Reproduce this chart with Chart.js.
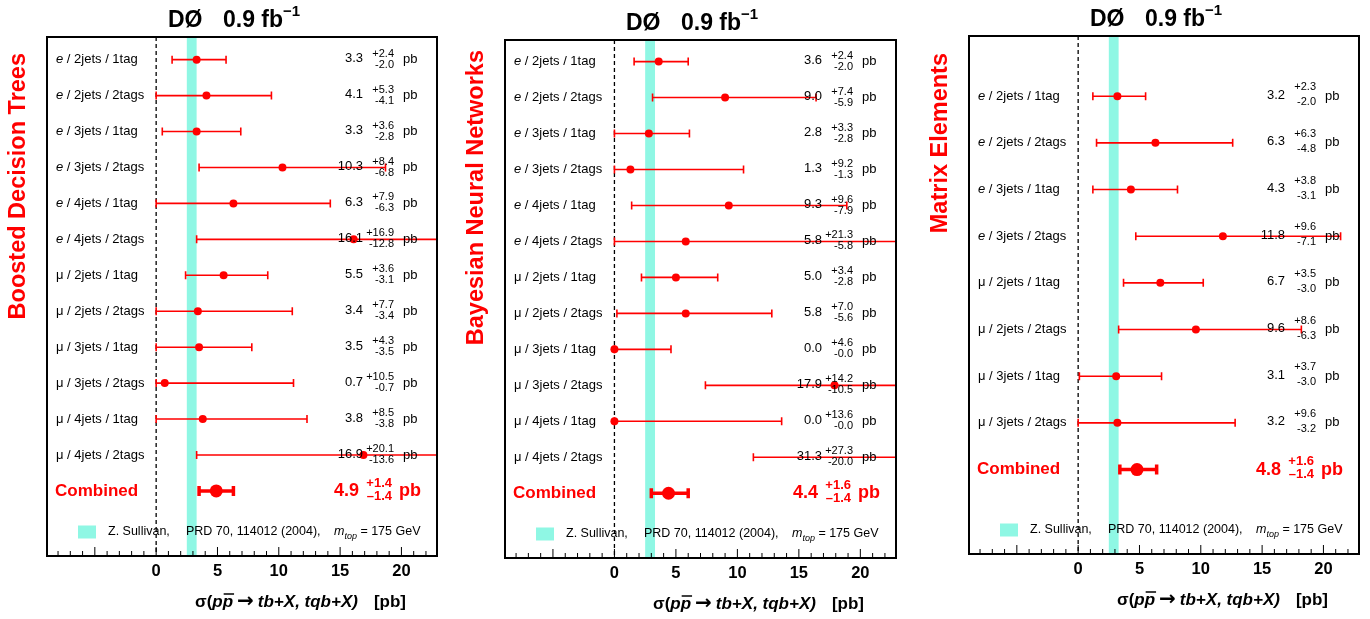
<!DOCTYPE html>
<html>
<head>
<meta charset="utf-8">
<script src="https://cdn.jsdelivr.net/npm/chart.js@4.4.0/dist/chart.umd.min.js"></script>
<style>
  body { margin: 0; background: #fff; width: 1370px; height: 619px; overflow: hidden; position: relative; }
  .panel { position: absolute; top: 0; }
</style>
</head>
<body>
<div class="panel" style="left:0px"><canvas id="chart-bdt" width="460" height="619"></canvas></div>
<div class="panel" style="left:460px"><canvas id="chart-bnn" width="450" height="619"></canvas></div>
<div class="panel" style="left:910px"><canvas id="chart-me" width="460" height="619"></canvas></div>
<script>
// ---- data ----
const channels = [
    'e / 2jets / 1tag', 'e / 2jets / 2tags', 'e / 3jets / 1tag', 'e / 3jets / 2tags',
    'e / 4jets / 1tag', 'e / 4jets / 2tags', 'μ / 2jets / 1tag', 'μ / 2jets / 2tags',
    'μ / 3jets / 1tag', 'μ / 3jets / 2tags', 'μ / 4jets / 1tag', 'μ / 4jets / 2tags'
];
const meChannels = [
    'e / 2jets / 1tag', 'e / 2jets / 2tags', 'e / 3jets / 1tag', 'e / 3jets / 2tags',
    'μ / 2jets / 1tag', 'μ / 2jets / 2tags', 'μ / 3jets / 1tag', 'μ / 3jets / 2tags'
];

// Boosted Decision Trees
const bdtValues = [3.3, 4.1, 3.3, 10.3, 6.3, 16.1, 5.5, 3.4, 3.5, 0.7, 3.8, 16.9];
const bdtPlus   = [2.4, 5.3, 3.6, 8.4, 7.9, 16.9, 3.6, 7.7, 4.3, 10.5, 8.5, 20.1];
const bdtMinus  = [2.0, 4.1, 2.8, 6.8, 6.3, 12.8, 3.1, 3.4, 3.5, 0.7, 3.8, 13.6];
const bdtCombined = [4.9, 1.4, 1.4];

// Bayesian Neural Networks
const bnnValues = [3.6, 9.0, 2.8, 1.3, 9.3, 5.8, 5.0, 5.8, 0.0, 17.9, 0.0, 31.3];
const bnnPlus   = [2.4, 7.4, 3.3, 9.2, 9.6, 21.3, 3.4, 7.0, 4.6, 14.2, 13.6, 27.3];
const bnnMinus  = [2.0, 5.9, 2.8, 1.3, 7.9, 5.8, 2.8, 5.6, 0.0, 10.5, 0.0, 20.0];
const bnnCombined = [4.4, 1.6, 1.4];

// Matrix Elements
const meValues = [3.2, 6.3, 4.3, 11.8, 6.7, 9.6, 3.1, 3.2];
const mePlus   = [2.3, 6.3, 3.8, 9.6, 3.5, 8.6, 3.7, 9.6];
const meMinus  = [2.0, 4.8, 3.1, 7.1, 3.0, 6.3, 3.0, 3.2];
const meCombined = [4.8, 1.6, 1.4];

const xTickLabels = [0, 5, 10, 15, 20];
const theoryBand = [2.5, 3.3];   // Z. Sullivan prediction
const xRange = [-8.9, 22.9];

// ---- style ----
const FONT = '"Liberation Sans", Arial, Helvetica, sans-serif';
const RED = '#ff0000';
const CYAN = '#8ff7e4';

function drawBar(ctx, x, yPix, lo, hi, lw, capH) {
    const x0 = x.getPixelForValue(lo), x1 = x.getPixelForValue(hi);
    ctx.strokeStyle = RED;
    ctx.lineWidth = lw;
    ctx.beginPath();
    ctx.moveTo(x0, yPix); ctx.lineTo(x1, yPix);
    ctx.moveTo(x0, yPix - capH); ctx.lineTo(x0, yPix + capH);
    ctx.moveTo(x1, yPix - capH); ctx.lineTo(x1, yPix + capH);
    ctx.stroke();
}

function text(ctx, str, px, py, font, align, color) {
    ctx.font = font;
    ctx.textAlign = align || 'left';
    ctx.fillStyle = color || '#000';
    ctx.fillText(str, px, py);
    return ctx.measureText(str).width;
}

function makeDecor(cfg) {
    return {
        id: 'decor',
        beforeDatasetsDraw(chart) {
            const { ctx, chartArea: a, scales: { x, y } } = chart;
            ctx.save();
            ctx.beginPath();
            ctx.rect(a.left, a.top, a.right - a.left, a.bottom - a.top);
            ctx.clip();
            // theory band
            const b0 = x.getPixelForValue(theoryBand[0]), b1 = x.getPixelForValue(theoryBand[1]);
            ctx.fillStyle = CYAN;
            ctx.fillRect(b0, a.top, b1 - b0, a.bottom - a.top);
            // zero line
            const z = x.getPixelForValue(0);
            ctx.strokeStyle = '#000';
            ctx.lineWidth = 1.3;
            ctx.setLineDash([4, 3]);
            ctx.beginPath();
            ctx.moveTo(z, a.top); ctx.lineTo(z, a.bottom);
            ctx.stroke();
            ctx.setLineDash([]);
            // error bars
            cfg.values.forEach((v, i) => {
                drawBar(ctx, x, y.getPixelForValue(i), v - cfg.minus[i], v + cfg.plus[i], 1.6, 4);
            });
            const c = cfg.combined;
            drawBar(ctx, x, y.getPixelForValue(cfg.values.length), c[0] - c[2], c[0] + c[1], 3.5, 5);
            ctx.restore();
        },
        afterDatasetsDraw(chart) {
            const { ctx, chartArea: a, scales: { x, y } } = chart;
            ctx.save();
            ctx.textBaseline = 'middle';

            // per-channel labels and results
            cfg.rows.forEach((label, i) => {
                const yy = y.getPixelForValue(i);
                const lx = a.left + 9;
                const first = label.charAt(0);
                let w = text(ctx, first, lx, yy, (first === 'e' ? 'italic ' : '') + '13px ' + FONT);
                text(ctx, label.slice(1), lx + w, yy, '13px ' + FONT);
                text(ctx, cfg.values[i].toFixed(1), a.right - 74, yy - 1, '13px ' + FONT, 'right');
                text(ctx, '+' + cfg.plus[i].toFixed(1), a.right - 43, yy - cfg.supDy, '11px ' + FONT, 'right');
                text(ctx, '-' + cfg.minus[i].toFixed(1), a.right - 43, yy + cfg.subDy, '11px ' + FONT, 'right');
                text(ctx, 'pb', a.right - 34, yy, '13px ' + FONT);
            });

            // combined result
            const cy = y.getPixelForValue(cfg.rows.length);
            const c = cfg.combined;
            text(ctx, 'Combined', a.left + 8, cy, 'bold 17px ' + FONT, 'left', RED);
            text(ctx, c[0].toFixed(1), a.right - 78, cy, 'bold 18px ' + FONT, 'right', RED);
            text(ctx, '+' + c[1].toFixed(1), a.right - 45, cy - 8, 'bold 13px ' + FONT, 'right', RED);
            text(ctx, '\u2013' + c[2].toFixed(1), a.right - 45, cy + 5, 'bold 13px ' + FONT, 'right', RED);
            text(ctx, 'pb', a.right - 38, cy, 'bold 18px ' + FONT, 'left', RED);

            // legend
            const ly = a.bottom - 24;
            ctx.fillStyle = CYAN;
            ctx.fillRect(a.left + 31, ly - 6.5, 18, 13);
            text(ctx, 'Z. Sullivan,', a.left + 61, ly, '12.5px ' + FONT);
            text(ctx, 'PRD 70, 114012 (2004),', a.left + 139, ly, '12.5px ' + FONT);
            let mx = a.left + 287;
            mx += text(ctx, 'm', mx, ly, 'italic 12.5px ' + FONT);
            mx += text(ctx, 'top', mx, ly + 4, 'italic 9px ' + FONT);
            text(ctx, ' = 175 GeV', mx, ly, '12.5px ' + FONT);

            // frame
            ctx.strokeStyle = '#000';
            ctx.lineWidth = 2;
            ctx.strokeRect(a.left, a.top, a.right - a.left, a.bottom - a.top);

            // inward tick marks
            ctx.lineWidth = 1;
            ctx.beginPath();
            for (let v = Math.ceil(xRange[0]); v <= Math.floor(xRange[1]); v++) {
                const px = x.getPixelForValue(v);
                const len = v % 5 === 0 ? 9 : 5;
                ctx.moveTo(px, a.bottom);
                ctx.lineTo(px, a.bottom - len);
            }
            ctx.stroke();

            // top title
            const ty = a.top - 16;
            text(ctx, 'DØ', a.left + 121, ty, 'bold 23px ' + FONT);
            const fw = text(ctx, '0.9 fb', a.left + 176, ty, 'bold 23px ' + FONT);
            text(ctx, '\u22121', a.left + 176 + fw, ty - 9, 'bold 15px ' + FONT);

            // method title (rotated)
            ctx.save();
            ctx.translate(a.left - 28, cfg.titleTop);
            ctx.rotate(-Math.PI / 2);
            text(ctx, cfg.title, 0, 0, 'bold 23.5px ' + FONT, 'right', RED);
            ctx.restore();

            // x axis title
            const ay = a.bottom + 46;
            let ax = a.left + 148;
            const bf = 'bold 17px ' + FONT, bif = 'bold italic 17px ' + FONT;
            ax += text(ctx, 'σ(', ax, ay, bf);
            ax += text(ctx, 'p', ax, ay, bif);
            const pw = text(ctx, 'p', ax, ay, bif);
            ctx.lineWidth = 1.5;
            ctx.beginPath();
            ctx.moveTo(ax + 1, ay - 8); ctx.lineTo(ax + pw + 1, ay - 8);
            ctx.stroke();
            ax += pw + 4;
            ax += text(ctx, '\u2192', ax, ay, 'bold 20px "DejaVu Sans", ' + FONT) + 4;
            ax += text(ctx, 'tb+X, tqb+X)', ax, ay, bif);
            text(ctx, '[pb]', ax + 16, ay, bf);

            ctx.restore();
        }
    };
}

function initPanel(canvasId, cfg) {
    const ctx = document.getElementById(canvasId);
    new Chart(ctx.getContext('2d'), {
        type: 'scatter',
        data: {
            datasets: [
                {
                    data: cfg.values.map((v, i) => ({ x: v, y: i })),
                    backgroundColor: RED, borderWidth: 0,
                    pointRadius: 4, pointHoverRadius: 4
                },
                {
                    data: [{ x: cfg.combined[0], y: cfg.values.length }],
                    backgroundColor: RED, borderWidth: 0,
                    pointRadius: 6.5, pointHoverRadius: 6.5
                }
            ]
        },
        options: {
            responsive: false,
            animation: false,
            events: [],
            layout: { padding: cfg.padding },
            plugins: { legend: { display: false }, tooltip: { enabled: false } },
            scales: {
                x: {
                    type: 'linear', min: xRange[0], max: xRange[1],
                    afterBuildTicks: s => { s.ticks = xTickLabels.map(v => ({ value: v })); },
                    afterFit: s => { s.height = 40; },
                    ticks: { font: { family: FONT, size: 16.5, weight: 'bold' }, color: '#000', padding: 6, maxRotation: 0, autoSkip: false },
                    grid: { display: false, drawTicks: false },
                    border: { display: false }
                },
                y: { type: 'linear', min: cfg.yMin, max: cfg.yMax, reverse: true, display: false }
            }
        },
        plugins: [makeDecor(cfg)]
    });
}

initPanel('chart-bdt', {
    rows: channels, values: bdtValues, plus: bdtPlus, minus: bdtMinus, combined: bdtCombined,
    title: 'Boosted Decision Trees', titleTop: 53,
    padding: { left: 47, right: 23, top: 37, bottom: 23 },
    yMin: -0.63, yMax: 13.81, supDy: 6, subDy: 5
});
initPanel('chart-bnn', {
    rows: channels, values: bnnValues, plus: bnnPlus, minus: bnnMinus, combined: bnnCombined,
    title: 'Bayesian Neural Networks', titleTop: 50,
    padding: { left: 45, right: 14, top: 40, bottom: 21 },
    yMin: -0.6, yMax: 13.8, supDy: 6, subDy: 5
});
initPanel('chart-me', {
    rows: meChannels, values: meValues, plus: mePlus, minus: meMinus, combined: meCombined,
    title: 'Matrix Elements', titleTop: 53,
    padding: { left: 59, right: 11, top: 36, bottom: 25 },
    yMin: -1.29, yMax: 9.81, supDy: 9, subDy: 6
});
</script>
</body>
</html>
